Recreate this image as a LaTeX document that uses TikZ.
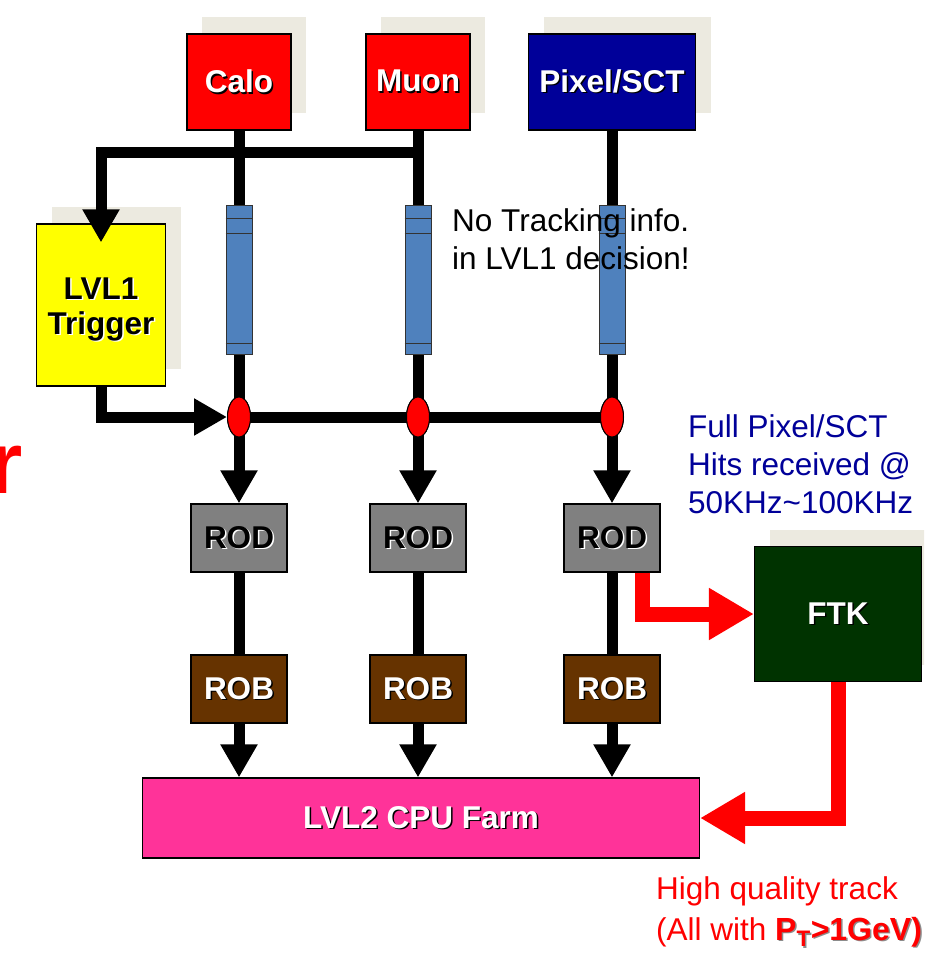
\documentclass[tikz,border=0pt]{standalone}
\usepackage{fontspec}
\setmainfont{Liberation Sans}
\usetikzlibrary{arrows.meta, shapes.geometric, shadows}
\definecolor{calored}{RGB}{255, 0, 0}
\definecolor{pixelblue}{RGB}{0, 0, 153}
\definecolor{lvlyellow}{RGB}{255, 255, 0}
\definecolor{rodgray}{RGB}{128, 128, 128}
\definecolor{robbrown}{RGB}{102, 51, 0}
\definecolor{farmpink}{RGB}{255, 51, 153}
\definecolor{ftkgreen}{RGB}{0, 51, 0}
\definecolor{fibreblue}{RGB}{79, 129, 189}
\definecolor{shadowbeige}{RGB}{236, 234, 224}
\definecolor{noteblue}{RGB}{0, 0, 153}
\newcommand{\dropword}[3]{\makebox[0pt][l]{\kern1.5pt\raisebox{-1.5pt}{\textcolor{#2}{#3}}}\textcolor{#1}{#3}}

\begin{document}
\begin{tikzpicture}[x=1pt, y=-1pt, >=Stealth,
  unit/.style={draw=black, line width=1.2pt, inner sep=0pt, align=center,
    font=\fontsize{31.5}{35}\selectfont\bfseries},
  raised/.style={drop shadow={fill=shadowbeige, opacity=1, shadow xshift=15pt, shadow yshift=17pt}},
  bus/.style={line width=11pt},
  busarrow/.style={bus, -{Triangle[width=35pt, length=33pt]}},
  feed/.style={calored, line width=15pt, -{Triangle[width=49pt, length=45pt]}},
  fibre/.style={draw=black!80, line width=1pt, fill=fibreblue, minimum width=26pt,
    minimum height=149pt, inner sep=0pt},
  tap/.style={ellipse, draw=black, line width=1pt, fill=calored, minimum width=23pt,
    minimum height=40pt, inner sep=0pt},
  note/.style={font=\fontsize{31.5}{38}\selectfont, align=left, inner sep=0pt, anchor=north west}]

  \useasboundingbox (0,0) rectangle (924,955);
  \clip (0,0) rectangle (924,955);

  % Detector front ends
  \node[unit, raised, fill=calored, minimum width=104pt, minimum height=96pt] (calo) at (239,82) {\dropword{white}{black}{Calo}};
  \node[unit, raised, fill=calored, minimum width=104pt, minimum height=96pt] (muon) at (418,82) {\dropword{white}{black}{Muon}};
  \node[unit, raised, fill=pixelblue, minimum width=167pt, minimum height=96pt] (pixel) at (612,82) {\dropword{white}{black}{Pixel/SCT}};

  % Level-1 trigger
  \node[unit, raised, fill=lvlyellow, minimum width=129pt, minimum height=162pt] (lvl1) at (101,305) {};
  \node[font=\fontsize{31.5}{35}\selectfont\bfseries, align=center, inner sep=0pt] at ([yshift=-5pt]lvl1.center)
    {\dropword{black}{white}{LVL1}\\\dropword{black}{white}{Trigger}};

  % Readout drivers and buffers
  \node[unit, fill=rodgray, minimum width=96pt, minimum height=68pt] (rod1) at (239,538) {\dropword{black}{white}{ROD}};
  \node[unit, fill=rodgray, minimum width=96pt, minimum height=68pt] (rod2) at (418,538) {\dropword{black}{white}{ROD}};
  \node[unit, fill=rodgray, minimum width=96pt, minimum height=68pt] (rod3) at (612,538) {\dropword{black}{white}{ROD}};
  \node[unit, fill=robbrown, minimum width=96pt, minimum height=68pt] (rob1) at (239,689) {\dropword{white}{black}{ROB}};
  \node[unit, fill=robbrown, minimum width=96pt, minimum height=68pt] (rob2) at (418,689) {\dropword{white}{black}{ROB}};
  \node[unit, fill=robbrown, minimum width=96pt, minimum height=68pt] (rob3) at (612,689) {\dropword{white}{black}{ROB}};

  % Level-2 farm and FTK
  \node[unit, fill=farmpink, minimum width=557pt, minimum height=80pt] (farm) at (421,818) {\dropword{white}{black}{LVL2 CPU Farm}};
  \node[unit, raised, fill=ftkgreen, minimum width=167pt, minimum height=135pt] (ftk) at (838,614) {\dropword{white}{black}{FTK}};

  % Data paths
  \draw[busarrow] (calo.south) -- (rod1.north);
  \draw[busarrow] (muon.south) -- (rod2.north);
  \draw[busarrow] (pixel.south) -- (rod3.north);
  \coordinate (l1split) at (muon.south |- 0,152);
  \draw[busarrow] (l1split) -| ([yshift=-19pt]lvl1.north);

  % Level-1 accept line
  \node[tap] (tap1) at (239,417) {};
  \node[tap] (tap2) at (418,417) {};
  \node[tap] (tap3) at (612,417) {};
  \draw[busarrow] (lvl1.south) |- (tap1.west);
  \draw[bus] (tap1.center) -- (tap3.center);
  \foreach \n in {1,2,3} {
    \node[tap] at (tap\n) {};
    \draw[bus] (rod\n.south) -- (rob\n.north);
    \draw[busarrow] (rob\n.south) -- (rob\n.south |- farm.north);
  }

  % Optical links
  \foreach \n/\x in {1/239, 2/418, 3/612} {
    \node[fibre] (link\n) at (\x,279.5) {};
    \draw[black!80, line width=1pt] ([yshift=-14pt]link\n.north west) -- ([yshift=-14pt]link\n.north east);
    \draw[black!80, line width=1pt] ([yshift=-29pt]link\n.north west) -- ([yshift=-29pt]link\n.north east);
    \draw[black!80, line width=1pt] ([yshift=11pt]link\n.south west) -- ([yshift=11pt]link\n.south east);
  }

  % FTK paths
  \coordinate (ftkfeed) at ([xshift=-18pt]rod3.south east);
  \draw[feed] (ftkfeed) |- (ftk.west);
  \draw[feed] (ftk.south) |- (farm.east);

  % Notes
  \node[note] (notrack) at (452,208) {No Tracking info.\\in LVL1 decision!};
  \node[note, text=noteblue] (fullhits) at (688,414) {Full Pixel/SCT\\Hits received @\\50KHz\textasciitilde 100KHz};
  \node[note, text=calored, font=\fontsize{31.5}{41}\selectfont] (hqtrack) at (656,876)
    {High quality track\\(All with {\fontsize{32}{41}\selectfont\bfseries\dropword{calored}{black!45}{P\textsubscript{T}>1GeV)}}};
  \node[text=calored, font=\fontsize{88}{90}\selectfont\bfseries, anchor=base west, inner sep=0pt] (cutr) at (-12,493) {r};

\end{tikzpicture}
\end{document}
